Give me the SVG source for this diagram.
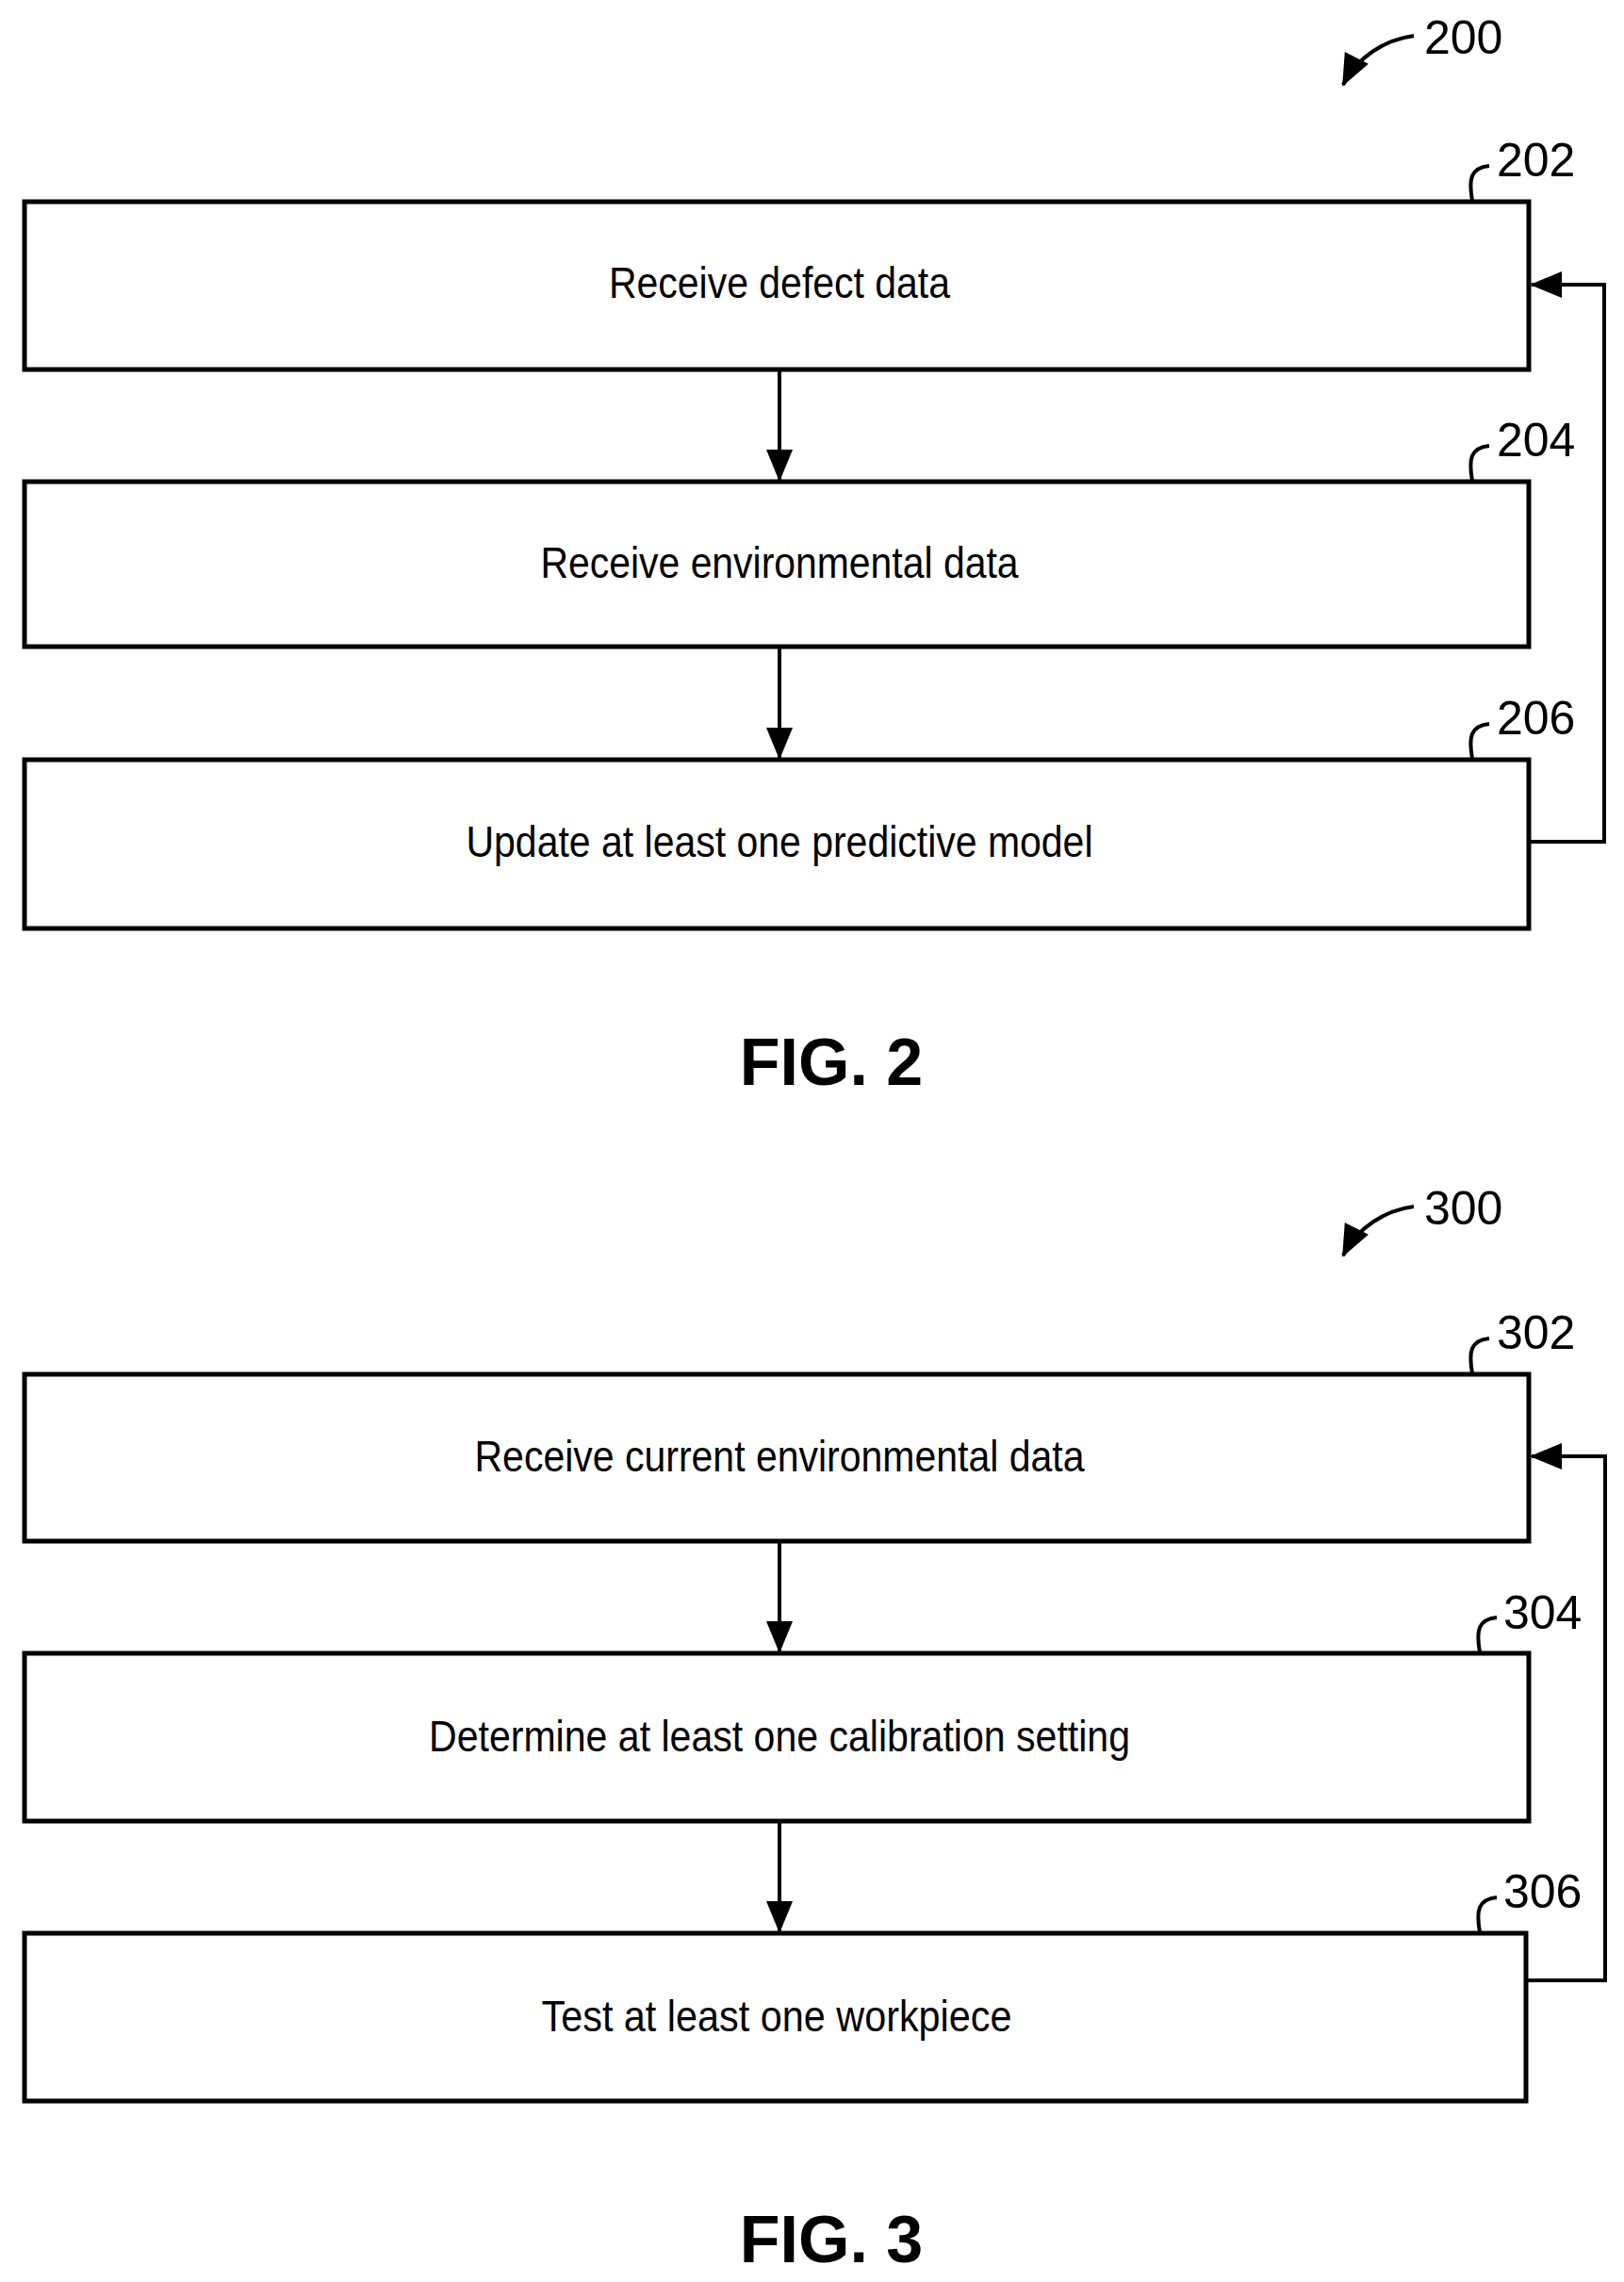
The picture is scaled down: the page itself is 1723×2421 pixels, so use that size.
<svg xmlns="http://www.w3.org/2000/svg" width="1723" height="2421" viewBox="0 0 1723 2421">
<style>
.box{fill:#fff;stroke:#000;stroke-width:5}
.t{font-family:"Liberation Sans",Arial,sans-serif;font-size:46px;text-anchor:middle;dominant-baseline:central}
.n{font-family:"Liberation Sans",Arial,sans-serif;font-size:50px}
.f{font-family:"Liberation Sans",Arial,sans-serif;font-size:70px;font-weight:bold;text-anchor:middle}
.c{fill:none;stroke:#000;stroke-width:4}
.l{fill:none;stroke:#000;stroke-width:4}
</style>
<defs>
<marker id="ah" markerWidth="34" markerHeight="34" refX="32" refY="17" orient="auto" markerUnits="userSpaceOnUse" viewBox="0 0 34 34"><path d="M0,3L34,17L0,31z"/></marker>
</defs>
<rect width="1723" height="2421" fill="#fff"/>
<g id="ref200"><path class="l" d="M1500,38 C1470,42 1440,60 1425,90" marker-end="url(#ah)"/><text class="n" x="1511" y="57">200</text></g>
<g id="n202"><rect class="box" x="26" y="214" width="1596" height="178"/><text class="t" x="827" y="300" textLength="362" lengthAdjust="spacingAndGlyphs">Receive defect data</text><path class="l" d="M1562,213 C1558,190 1560,178 1580,176"/><text class="n" x="1588" y="187">202</text></g>
<g id="n204"><rect class="box" x="26" y="511" width="1596" height="175"/><text class="t" x="827" y="597" textLength="507" lengthAdjust="spacingAndGlyphs">Receive environmental data</text><path class="l" d="M1562,510 C1558,487 1560,475 1580,473"/><text class="n" x="1588" y="484">204</text></g>
<g id="n206"><rect class="box" x="26" y="806" width="1596" height="179"/><text class="t" x="827" y="893" textLength="665" lengthAdjust="spacingAndGlyphs">Update at least one predictive model</text><path class="l" d="M1562,805 C1558,782 1560,770 1580,768"/><text class="n" x="1588" y="779">206</text></g>
<text class="f" x="882" y="1151">FIG. 2</text>
<g id="ref300"><path class="l" d="M1500,1280 C1470,1284 1440,1302 1425,1332" marker-end="url(#ah)"/><text class="n" x="1511" y="1299">300</text></g>
<g id="n302"><rect class="box" x="26" y="1458" width="1596" height="177"/><text class="t" x="827" y="1545" textLength="647" lengthAdjust="spacingAndGlyphs">Receive current environmental data</text><path class="l" d="M1562,1457 C1558,1434 1560,1422 1580,1420"/><text class="n" x="1588" y="1431">302</text></g>
<g id="n304"><rect class="box" x="26" y="1754" width="1596" height="178"/><text class="t" x="827" y="1842" textLength="744" lengthAdjust="spacingAndGlyphs">Determine at least one calibration setting</text><path class="l" d="M1570,1753 C1566,1730 1568,1718 1588,1716"/><text class="n" x="1595" y="1728">304</text></g>
<g id="n306"><rect class="box" x="26" y="2051" width="1593" height="178"/><text class="t" x="824" y="2139" textLength="499" lengthAdjust="spacingAndGlyphs">Test at least one workpiece</text><path class="l" d="M1570,2050 C1566,2027 1568,2015 1588,2013"/><text class="n" x="1595" y="2024">306</text></g>
<text class="f" x="882" y="2400">FIG. 3</text>
<g id="connectors">
<path class="c" d="M827,394V509" marker-end="url(#ah)"/>
<path class="c" d="M827,688V804" marker-end="url(#ah)"/>
<path class="c" d="M1624,893H1702V302H1625" marker-end="url(#ah)"/>
<path class="c" d="M827,1637V1752" marker-end="url(#ah)"/>
<path class="c" d="M827,1934V2049" marker-end="url(#ah)"/>
<path class="c" d="M1621,2101H1703V1545H1625" marker-end="url(#ah)"/>
</g>
</svg>
